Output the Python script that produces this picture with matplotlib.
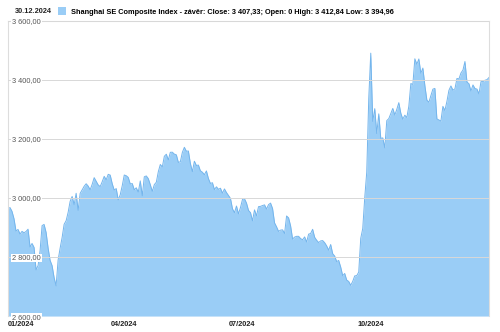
#!/usr/bin/env python3
"""
Shanghai SE Composite Index, daily close 2024 - area chart.
"""

import numpy as np
import matplotlib
matplotlib.use('Agg')
import matplotlib.pyplot as plt

plt.rcParams['font.family'] = ['Liberation Sans', 'DejaVu Sans']

# Trading days and daily close values
dates = [
    '2024-01-02', '2024-01-03', '2024-01-04', '2024-01-05', '2024-01-08', '2024-01-09', '2024-01-10',
    '2024-01-11', '2024-01-12', '2024-01-15', '2024-01-16', '2024-01-17', '2024-01-18', '2024-01-19',
    '2024-01-22', '2024-01-23', '2024-01-24', '2024-01-25', '2024-01-26', '2024-01-29', '2024-01-30',
    '2024-01-31', '2024-02-01', '2024-02-02', '2024-02-05', '2024-02-06', '2024-02-07', '2024-02-08',
    '2024-02-19', '2024-02-20', '2024-02-21', '2024-02-22', '2024-02-23', '2024-02-26', '2024-02-27',
    '2024-02-28', '2024-02-29', '2024-03-01', '2024-03-04', '2024-03-05', '2024-03-06', '2024-03-07',
    '2024-03-08', '2024-03-11', '2024-03-12', '2024-03-13', '2024-03-14', '2024-03-15', '2024-03-18',
    '2024-03-19', '2024-03-20', '2024-03-21', '2024-03-22', '2024-03-25', '2024-03-26', '2024-03-27',
    '2024-03-28', '2024-03-29', '2024-04-01', '2024-04-02', '2024-04-03', '2024-04-08', '2024-04-09',
    '2024-04-10', '2024-04-11', '2024-04-12', '2024-04-15', '2024-04-16', '2024-04-17', '2024-04-18',
    '2024-04-19', '2024-04-22', '2024-04-23', '2024-04-24', '2024-04-25', '2024-04-26', '2024-04-29',
    '2024-04-30', '2024-05-06', '2024-05-07', '2024-05-08', '2024-05-09', '2024-05-10', '2024-05-13',
    '2024-05-14', '2024-05-15', '2024-05-16', '2024-05-17', '2024-05-20', '2024-05-21', '2024-05-22',
    '2024-05-23', '2024-05-24', '2024-05-27', '2024-05-28', '2024-05-29', '2024-05-30', '2024-05-31',
    '2024-06-03', '2024-06-04', '2024-06-05', '2024-06-06', '2024-06-07', '2024-06-11', '2024-06-12',
    '2024-06-13', '2024-06-14', '2024-06-17', '2024-06-18', '2024-06-19', '2024-06-20', '2024-06-21',
    '2024-06-24', '2024-06-25', '2024-06-26', '2024-06-27', '2024-06-28', '2024-07-01', '2024-07-02',
    '2024-07-03', '2024-07-04', '2024-07-05', '2024-07-08', '2024-07-09', '2024-07-10', '2024-07-11',
    '2024-07-12', '2024-07-15', '2024-07-16', '2024-07-17', '2024-07-18', '2024-07-19', '2024-07-22',
    '2024-07-23', '2024-07-24', '2024-07-25', '2024-07-26', '2024-07-29', '2024-07-30', '2024-07-31',
    '2024-08-01', '2024-08-02', '2024-08-05', '2024-08-06', '2024-08-07', '2024-08-08', '2024-08-09',
    '2024-08-12', '2024-08-13', '2024-08-14', '2024-08-15', '2024-08-16', '2024-08-19', '2024-08-20',
    '2024-08-21', '2024-08-22', '2024-08-23', '2024-08-26', '2024-08-27', '2024-08-28', '2024-08-29',
    '2024-08-30', '2024-09-02', '2024-09-03', '2024-09-04', '2024-09-05', '2024-09-06', '2024-09-09',
    '2024-09-10', '2024-09-11', '2024-09-12', '2024-09-13', '2024-09-18', '2024-09-19', '2024-09-20',
    '2024-09-23', '2024-09-24', '2024-09-25', '2024-09-26', '2024-09-27', '2024-09-30', '2024-10-08',
    '2024-10-09', '2024-10-10', '2024-10-11', '2024-10-14', '2024-10-15', '2024-10-16', '2024-10-17',
    '2024-10-18', '2024-10-21', '2024-10-22', '2024-10-23', '2024-10-24', '2024-10-25', '2024-10-28',
    '2024-10-29', '2024-10-30', '2024-10-31', '2024-11-01', '2024-11-04', '2024-11-05', '2024-11-06',
    '2024-11-07', '2024-11-08', '2024-11-11', '2024-11-12', '2024-11-13', '2024-11-14', '2024-11-15',
    '2024-11-18', '2024-11-19', '2024-11-20', '2024-11-21', '2024-11-22', '2024-11-25', '2024-11-26',
    '2024-11-27', '2024-11-28', '2024-11-29', '2024-12-02', '2024-12-03', '2024-12-04', '2024-12-05',
    '2024-12-06', '2024-12-09', '2024-12-10', '2024-12-11', '2024-12-12', '2024-12-13', '2024-12-16',
    '2024-12-17', '2024-12-18', '2024-12-19', '2024-12-20', '2024-12-23', '2024-12-24', '2024-12-25',
    '2024-12-26', '2024-12-27', '2024-12-30',
]

close = [
    2962.28, 2967.25, 2954.35, 2929.18, 2887.54, 2893.25, 2877.70,
    2886.65, 2881.98, 2886.29, 2893.99, 2833.62, 2845.78, 2832.28,
    2756.34, 2770.98, 2820.77, 2906.11, 2910.22, 2883.36, 2830.53,
    2788.55, 2770.74, 2730.15, 2702.19, 2789.49, 2829.70, 2865.90,
    2910.54, 2922.73, 2950.96, 2988.36, 3004.88, 2977.02, 3015.48,
    2957.85, 3015.17, 3027.02, 3039.31, 3047.79, 3039.93, 3027.40,
    3046.02, 3068.46, 3055.94, 3043.83, 3038.23, 3054.64, 3072.86,
    3061.33, 3079.69, 3077.11, 3048.03, 3026.31, 3031.48, 2993.14,
    3010.66, 3041.17, 3077.38, 3074.96, 3069.30, 3047.05, 3048.54,
    3027.34, 3034.25, 3019.47, 3057.38, 3007.07, 3071.38, 3074.22,
    3065.26, 3044.60, 3021.98, 3044.82, 3052.90, 3088.64, 3113.04,
    3104.82, 3140.72, 3147.74, 3128.48, 3154.32, 3154.55, 3148.02,
    3145.77, 3119.90, 3122.40, 3154.03, 3171.15, 3157.97, 3158.54,
    3116.39, 3088.87, 3124.04, 3109.57, 3111.02, 3091.68, 3086.81,
    3078.49, 3091.20, 3065.40, 3048.79, 3051.28, 3028.05, 3037.47,
    3028.92, 3032.63, 3015.89, 3030.25, 3018.05, 3008.33, 2998.14,
    2963.10, 2950.00, 2972.53, 2945.85, 2967.40, 2994.73, 2997.01,
    2982.38, 2957.57, 2949.93, 2922.45, 2959.37, 2939.36, 2970.39,
    2971.30, 2974.01, 2976.30, 2962.25, 2977.13, 2982.31, 2964.22,
    2915.37, 2901.95, 2886.43, 2890.90, 2891.85, 2879.30, 2938.75,
    2932.39, 2905.34, 2860.70, 2867.28, 2869.90, 2869.83, 2862.19,
    2858.20, 2867.95, 2850.65, 2877.36, 2879.43, 2893.67, 2866.66,
    2856.58, 2848.77, 2854.37, 2855.52, 2848.32, 2837.43, 2823.11,
    2842.21, 2811.04, 2802.98, 2784.28, 2788.22, 2765.81, 2736.49,
    2744.19, 2721.80, 2717.12, 2704.09, 2717.28, 2736.02, 2736.81,
    2748.92, 2863.13, 2896.31, 3000.95, 3087.53, 3336.50, 3489.78,
    3258.86, 3301.93, 3217.74, 3284.32, 3201.29, 3202.95, 3169.38,
    3261.56, 3268.11, 3285.87, 3302.80, 3280.26, 3299.70, 3322.20,
    3286.41, 3266.24, 3279.82, 3272.01, 3310.21, 3386.99, 3383.81,
    3470.66, 3452.30, 3470.07, 3421.97, 3439.28, 3379.84, 3330.73,
    3323.85, 3346.01, 3367.99, 3370.40, 3267.19, 3263.76, 3259.76,
    3309.78, 3295.70, 3326.46, 3363.98, 3378.81, 3364.65, 3368.86,
    3404.08, 3402.53, 3422.66, 3432.49, 3461.50, 3391.88, 3386.33,
    3361.49, 3382.21, 3370.03, 3368.07, 3351.88, 3393.35, 3393.53,
    3398.08, 3400.14, 3407.33,
]

x_tick_dates = ['2024-01-02', '2024-04-01', '2024-07-01', '2024-10-08']
x_tick_labels = ['01/2024', '04/2024', '07/2024', '10/2024']
y_ticks = [2600, 2800, 3000, 3200, 3400, 3600]

date_label = '30.12.2024'
series_label = ('Shanghai SE Composite Index - závěr: Close: 3 407,33; '
                'Open: 0 High: 3 412,84 Low: 3 394,96')

FILL = '#9acdf6'
LINE = '#74b5ec'


def fmt_cz(v):
    # 3600 -> "3 600,00"
    return f'{v:,.2f}'.replace(',', ' ').replace('.', ',')


# the chart spaces trading sessions evenly (holidays are not shown as gaps)
x = np.arange(len(dates))

fig = plt.figure(figsize=(5.0, 3.32), dpi=100)
ax = fig.add_axes([0.016, 0.048, 0.962, 0.890])

ax.fill_between(x, close, 2600, color=FILL, lw=0, zorder=1, label=series_label)
ax.plot(x, close, color=LINE, lw=0.7, zorder=1.5)

ax.set_xlim(x[0], x[-1])
ax.set_ylim(2600, 3600)

# grid drawn over the area, like the original
ax.set_axisbelow(False)
ax.yaxis.grid(True, color='#d8d8d8', lw=0.7)
ax.xaxis.grid(False)

ax.set_yticks(y_ticks)
ax.set_yticklabels([fmt_cz(v) for v in y_ticks], fontsize=5.3, color='#555555')
ax.tick_params(axis='y', length=0, pad=-3)
for lbl in ax.get_yticklabels():
    lbl.set_horizontalalignment('left')
    lbl.set_bbox(dict(facecolor='white', edgecolor='none', pad=0.6))

ax.set_xticks([dates.index(d) for d in x_tick_dates])
ax.set_xticklabels(x_tick_labels, fontsize=5.3, fontweight='bold', color='#222222')
ax.tick_params(axis='x', length=0, pad=3.4)
ax.get_xticklabels()[0].set_horizontalalignment('left')

for side in ['left', 'right', 'top']:
    ax.spines[side].set_color('#dddddd')
    ax.spines[side].set_linewidth(0.8)
ax.spines['bottom'].set_visible(False)

fig.text(0.03, 0.966, date_label, fontsize=5.3, fontweight='bold',
         color='#222222', va='center')
ax.legend(loc='center left', bbox_to_anchor=(0.116, 0.966),
          bbox_transform=fig.transFigure, frameon=False,
          prop={'size': 5.3, 'weight': 'bold'}, handlelength=1.1,
          handleheight=1.4, handletextpad=0.6, borderaxespad=0, borderpad=0)

plt.savefig('out.png', dpi=100)
print('saved out.png')
